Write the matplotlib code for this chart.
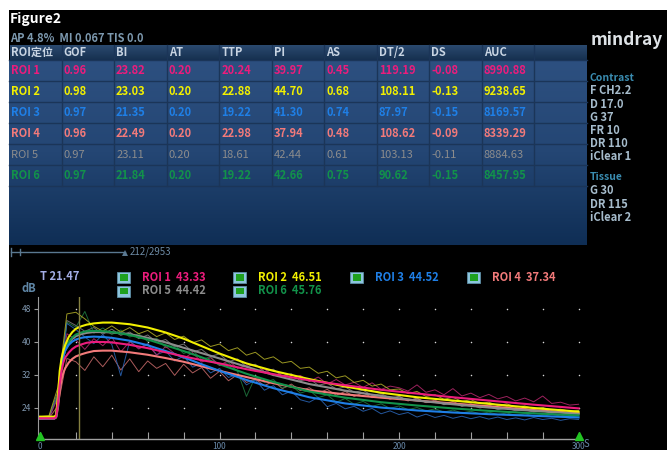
import numpy as np
import matplotlib
matplotlib.use('Agg')
import matplotlib.pyplot as plt
from matplotlib.patches import Rectangle, Polygon
from matplotlib.colors import LinearSegmentedColormap

plt.rcParams['font.family'] = ['Noto Sans CJK SC', 'DejaVu Sans']

W, H = 667, 450

# ---- table data ----
HEADERS = ['ROI定位', 'GOF', 'BI', 'AT', 'TTP', 'PI', 'AS', 'DT/2', 'DS', 'AUC']
ROI_NAMES = ['ROI 1', 'ROI 2', 'ROI 3', 'ROI 4', 'ROI 5', 'ROI 6']
GOF = [0.96, 0.98, 0.97, 0.96, 0.97, 0.97]
BI = [23.82, 23.03, 21.35, 22.49, 23.11, 21.84]
AT = [0.20, 0.20, 0.20, 0.20, 0.20, 0.20]
TTP = [20.24, 22.88, 19.22, 22.98, 18.61, 19.22]
PI = [39.97, 44.70, 41.30, 37.94, 42.44, 42.66]
AS = [0.45, 0.68, 0.74, 0.48, 0.61, 0.75]
DT2 = [119.19, 108.11, 87.97, 108.62, 103.13, 90.62]
DS = [-0.08, -0.13, -0.15, -0.09, -0.11, -0.15]
AUC = [8990.88, 9238.65, 8169.57, 8339.29, 8884.63, 8457.95]

ROI_COLORS = ['#ec1c7c', '#f2f000', '#1f7fe6', '#f27a7a', '#8c8c8c', '#12924a']
RAW_COLORS = ['#b8286e', '#b4b028', '#2a66b8', '#c86a6a', '#808080', '#1f7a40']

# legend values under the table
LEGEND_VALS = [43.33, 46.51, 44.52, 37.34, 44.42, 45.76]
T_MARK = 21.47

CONTRAST = ['F CH2.2', 'D 17.0', 'G 37', 'FR 10', 'DR 110', 'iClear 1']
TISSUE = ['G 30', 'DR 115', 'iClear 2']

# ---- fitted curves (dB) ----
FIT_T = [0, 8, 9, 10, 11, 12, 13, 14, 16, 18, 20, 23, 26, 30, 35, 40, 50, 60, 70,
         80, 90, 100, 115, 130, 150, 170, 190, 210, 230, 250, 275, 300]
FIT_1 = [21.5, 21.5, 21.8, 25.0, 29.8, 33.0, 35.0, 36.2, 37.4, 38.3, 38.9, 39.4, 39.8,
         40.0, 40.0, 39.9, 39.3, 38.5, 37.5, 36.5, 35.6, 34.8, 33.4, 32.2, 30.7, 29.5,
         28.4, 27.5, 26.6, 25.8, 24.8, 23.9]
FIT_2 = [21.9, 21.9, 22.3, 27.0, 33.0, 36.0, 37.8, 39.2, 41.2, 42.4, 43.2, 43.8, 44.2,
         44.5, 44.7, 44.7, 44.3, 43.5, 42.3, 40.8, 39.0, 37.2, 34.8, 33.0, 31.0, 29.2,
         27.7, 26.6, 25.8, 25.0, 24.0, 23.1]
FIT_3 = [21.5, 21.5, 21.9, 25.5, 31.0, 34.5, 36.5, 37.9, 39.3, 40.1, 40.6, 41.0, 41.2,
         41.3, 41.2, 41.0, 40.3, 39.2, 37.8, 36.3, 34.6, 33.0, 30.8, 28.8, 26.6, 25.1,
         24.1, 23.4, 22.9, 22.5, 22.1, 21.7]
FIT_4 = [21.4, 21.4, 21.7, 24.0, 28.0, 30.8, 32.5, 33.6, 35.0, 35.9, 36.5, 37.0, 37.4,
         37.8, 37.9, 37.9, 37.5, 36.9, 36.1, 35.2, 34.1, 33.0, 31.5, 30.0, 28.3, 27.3,
         26.5, 25.8, 25.1, 24.4, 23.5, 22.7]
FIT_5 = [21.6, 21.6, 22.0, 25.5, 31.0, 34.5, 36.5, 38.0, 39.8, 40.8, 41.4, 41.9, 42.2,
         42.4, 42.4, 42.3, 41.9, 41.0, 39.9, 38.6, 37.3, 36.0, 34.0, 32.0, 29.8, 28.2,
         26.9, 25.8, 24.9, 24.1, 23.3, 22.6]
FIT_6 = [21.5, 21.5, 21.9, 25.0, 30.5, 34.2, 36.4, 38.0, 40.0, 41.1, 41.8, 42.3, 42.6,
         42.7, 42.6, 42.4, 41.7, 40.6, 39.2, 37.8, 36.3, 34.6, 32.3, 30.3, 28.0, 26.5,
         25.4, 24.6, 23.9, 23.3, 22.7, 22.2]

# ---- raw intensity, one sample every 5 s ----
RAW_STEP = 5
RAW_1 = [21.4, 21.6, 26.5, 42.0, 40.5, 38.2, 40.8, 39.1, 41.2, 37.6, 40.1, 38.3, 39.4,
         36.8, 38.9, 37.2, 36.0, 37.4, 35.1, 36.2, 34.3, 35.5, 33.6, 34.4, 32.9, 33.5,
         31.8, 32.6, 31.2, 31.9, 30.4, 31.5, 29.8, 30.9, 29.6, 30.2, 29.0, 30.1, 28.5,
         29.3, 28.9, 28.1, 29.6, 27.8, 28.4, 27.2, 28.7, 26.9, 27.6, 26.5, 27.3, 26.2,
         26.8, 25.7, 26.4, 25.5, 26.9, 25.1, 25.4, 24.7, 24.9]
RAW_2 = [21.9, 22.1, 29.0, 46.8, 47.2, 45.6, 43.8, 42.6, 43.9, 42.4, 43.5, 42.0, 42.8,
         41.3, 42.2, 40.6, 41.4, 39.8, 40.5, 38.9, 39.5, 37.9, 38.6, 36.8, 37.5, 35.8,
         36.4, 34.9, 35.3, 33.6, 33.9, 32.4, 32.9, 31.3, 31.8, 30.2, 30.7, 29.3, 29.8,
         28.4, 28.6, 27.5, 28.0, 26.8, 27.2, 26.1, 26.6, 25.6, 26.0, 25.1, 25.4, 24.6,
         25.0, 24.2, 24.5, 23.8, 24.1, 23.5, 23.7, 23.2, 23.4]
RAW_3 = [21.4, 21.6, 27.0, 44.5, 43.0, 41.2, 39.6, 41.8, 39.4, 31.8, 40.2, 38.5, 39.6,
         36.9, 37.8, 35.4, 36.6, 33.9, 34.8, 32.5, 33.6, 31.4, 32.2, 29.6, 30.8, 28.3,
         29.4, 27.2, 28.1, 26.0, 25.4, 26.6, 24.3, 25.1, 23.8, 24.4, 23.2, 23.9, 22.6,
         23.3, 22.4, 22.9, 21.8, 22.5, 21.7, 22.2, 21.5, 22.0, 21.4, 21.9, 21.3, 21.8,
         21.2, 21.6, 21.1, 21.7, 21.2, 21.5, 21.0, 21.4, 21.2]
RAW_4 = [21.3, 21.5, 24.5, 36.0, 35.2, 33.1, 36.4, 34.0, 36.8, 33.2, 35.9, 32.8, 35.4,
         33.6, 34.8, 31.9, 34.6, 32.5, 33.8, 31.2, 32.9, 30.6, 32.1, 30.2, 31.0, 29.4,
         30.5, 28.7, 29.8, 28.2, 28.9, 27.6, 28.5, 27.1, 28.0, 26.8, 27.7, 26.5, 27.2,
         26.1, 26.8, 25.7, 26.4, 25.3, 25.9, 24.9, 25.6, 24.5, 25.0, 24.2, 24.7, 23.9,
         24.3, 23.5, 23.9, 23.2, 23.6, 22.9, 23.2, 22.6, 22.8]
RAW_5 = [21.6, 21.8, 28.0, 45.2, 44.0, 42.6, 43.5, 41.9, 43.1, 41.6, 42.4, 40.8, 41.7,
         39.9, 40.6, 38.8, 39.5, 37.6, 38.2, 36.5, 37.1, 35.2, 35.9, 34.0, 34.6, 32.8,
         33.4, 31.7, 32.3, 30.6, 31.1, 29.5, 30.0, 28.6, 29.1, 27.8, 28.3, 27.0, 27.5,
         26.4, 26.8, 25.8, 26.3, 25.3, 25.7, 24.8, 25.2, 24.4, 24.8, 24.0, 24.4, 23.6,
         24.0, 23.3, 23.6, 23.0, 23.3, 22.7, 23.0, 22.5, 22.7]
RAW_6 = [21.5, 21.7, 27.5, 44.8, 43.6, 47.4, 42.1, 43.4, 41.8, 42.9, 41.2, 42.0, 40.1,
         40.9, 38.6, 39.3, 37.2, 38.0, 35.8, 36.4, 34.3, 35.0, 32.9, 26.8, 31.6, 30.2,
         30.9, 28.8, 29.5, 27.6, 28.3, 26.5, 27.2, 25.4, 26.3, 24.9, 25.6, 24.4, 25.0,
         23.9, 24.5, 23.6, 24.1, 23.3, 23.8, 23.0, 23.5, 22.8, 23.2, 22.6, 23.0, 22.4,
         22.8, 22.2, 22.6, 22.1, 22.4, 21.9, 22.3, 21.8, 22.1]

FITS = [FIT_1, FIT_2, FIT_3, FIT_4, FIT_5, FIT_6]
RAWS = [RAW_1, RAW_2, RAW_3, RAW_4, RAW_5, RAW_6]

fig = plt.figure(figsize=(W / 100, H / 100), dpi=100, facecolor='white')

# background axes in pixel coordinates
bg = fig.add_axes([0, 0, 1, 1], zorder=0)
bg.set_xlim(0, W)
bg.set_ylim(H, 0)
bg.axis('off')
bg.add_patch(Rectangle((9, 10), W - 9, H - 10, color='black', lw=0))

# ---- table ----
tab_left, tab_right, tab_top, tab_bottom = 9, 587, 45, 245
col_w = (tab_right - tab_left) / 11
row_h = 21
cmap = LinearSegmentedColormap.from_list('tab', ['#2d5080', '#244674', '#0f2e55'])
grad = np.linspace(0, 1, 256)[:, None]
bg.imshow(grad, cmap=cmap, aspect='auto', extent=(tab_left, tab_right, tab_bottom, 60),
          zorder=1)
head_cmap = LinearSegmentedColormap.from_list('head', ['#2b4a70', '#16304f'])
for c in range(11):
    x0 = tab_left + c * col_w
    bg.imshow(grad, cmap=head_cmap, aspect='auto',
              extent=(x0 + 0.5, x0 + col_w - 0.5, 60, tab_top), zorder=1)
for r in range(7):
    y = 60 + r * row_h
    bg.plot([tab_left, tab_right], [y, y], color='#1b3558', lw=1.0, zorder=2)
for c in range(1, 11):
    x = tab_left + c * col_w
    bg.plot([x, x], [tab_top, 60 + 6 * row_h], color='#1b3558', lw=1.0, zorder=2)

for c, name in enumerate(HEADERS):
    bg.text(tab_left + c * col_w + 2, 52.5, name, color='#c8d4e2', fontsize=8,
            fontweight='bold', va='center', ha='left', zorder=3)

columns = [GOF, BI, AT, TTP, PI, AS, DT2, DS, AUC]
for r in range(6):
    y = 60 + r * row_h + row_h / 2
    weight = 'normal' if r == 4 else 'bold'
    bg.text(tab_left + 2, y, ROI_NAMES[r], color=ROI_COLORS[r], fontsize=8,
            fontweight=weight, va='center', ha='left', zorder=3)
    for c, col in enumerate(columns):
        bg.text(tab_left + (c + 1) * col_w + 2, y, f"{col[r]:.2f}", color=ROI_COLORS[r],
                fontsize=8, fontweight=weight, va='center', ha='left', zorder=3)

# top texts
bg.text(10, 19, 'Figure2', color='white', fontsize=10, fontweight='bold', va='center')
bg.text(10, 38, 'AP 4.8%  MI 0.067 TIS 0.0', color='#7c98ae', fontsize=8,
        fontweight='bold', va='center')

# right panel
bg.text(591, 40, 'mindray', color='#dde2e6', fontsize=12.5, fontweight='bold', va='center')
bg.text(590, 78, 'Contrast', color='#3a8cb0', fontsize=7.5, fontweight='bold', va='center')
for i, s in enumerate(CONTRAST):
    bg.text(590, 91 + i * 13.2, s, color='#a6bccc', fontsize=8, fontweight='bold',
            va='center')
bg.text(590, 177, 'Tissue', color='#3a8cb0', fontsize=7.5, fontweight='bold', va='center')
for i, s in enumerate(TISSUE):
    bg.text(590, 191 + i * 13.2, s, color='#a6bccc', fontsize=8, fontweight='bold',
            va='center')

# slider under the table
bg.plot([11, 125], [252, 252], color='#5a7890', lw=1)
bg.plot([11, 11], [248, 256], color='#5a7890', lw=1)
bg.plot([20, 20], [249, 255], color='#5a7890', lw=1)
bg.add_patch(Polygon([[122, 256], [128, 256], [125, 250]], color='#5a7890', lw=0))
bg.text(130, 252, '212/2953', color='#6c8aa4', fontsize=7, va='center')

# legend above the chart
bg.text(40, 277, f"T {T_MARK:.2f}", color='#a4aee6', fontsize=8, fontweight='bold',
        va='center')
box_x = [117, 233, 350, 467]
slots = [(0, 0), (1, 0), (2, 0), (3, 0), (0, 1), (1, 1)]
for i, (col, row) in enumerate(slots):
    yb = 272 + row * 13.5
    xb = box_x[col]
    bg.add_patch(Rectangle((xb, yb), 13, 11, facecolor='#8cc4dc', edgecolor='#5d8ea6',
                           lw=0.6))
    bg.add_patch(Rectangle((xb + 2.5, yb + 2.2), 8, 6.6, facecolor='#1ea01e', lw=0))
    bg.text(xb + 25, yb + 5.5, f"{ROI_NAMES[i]}  {LEGEND_VALS[i]:.2f}",
            color=ROI_COLORS[i], fontsize=8, fontweight='bold', va='center')

bg.text(22, 289, 'dB', color='#5f86a6', fontsize=8, fontweight='bold', va='center')
bg.text(584, 444, 'S', color='#6888a8', fontsize=7, va='center')

# ---- TIC chart ----
ax = fig.add_axes([38 / W, (H - 439) / H, (582 - 38) / W, (439 - 297) / H], zorder=2)
ax.set_facecolor('none')
ax.set_xlim(-1.1, 301.9)
ax.set_ylim(16.48, 50.9)

raw_t = np.arange(len(RAW_1)) * RAW_STEP
for i in [3, 4, 5, 2, 0, 1]:
    ax.plot(raw_t, RAWS[i], color=RAW_COLORS[i], lw=0.7, alpha=0.85)
for i in [3, 4, 5, 2, 1, 0]:
    ax.plot(FIT_T, FITS[i], color=ROI_COLORS[i], lw=1.5)

ax.axvline(T_MARK, color='#858040', lw=1.0)

gx, gy = np.meshgrid(np.arange(20, 301, 20), [24, 32, 40, 48])
ax.scatter(gx.ravel(), gy.ravel(), s=1.2, color='#d8d8d8', lw=0, zorder=0)

ax.plot([0, 300], [17.3, 17.3], linestyle='none', marker='^', markersize=6,
        color='#22c422', clip_on=False, zorder=5)

for side in ['top', 'right']:
    ax.spines[side].set_visible(False)
ax.spines['left'].set_color('#9a9a9a')
ax.spines['bottom'].set_color('#a0a0a0')
ax.spines['left'].set_linewidth(0.8)
ax.spines['bottom'].set_linewidth(1.0)

ax.set_xticks(np.arange(0, 301, 20))
ax.set_xticklabels([str(v) if v % 100 == 0 else '' for v in range(0, 301, 20)])
ax.tick_params(axis='x', direction='in', length=5, color='#a0a0a0', labelsize=6,
               labelcolor='#6888a8', pad=2)
ax.set_yticks([24, 32, 40, 48])
ax.tick_params(axis='y', direction='out', length=3, color='#9a9a9a', labelsize=6,
               labelcolor='#8098b0', pad=2)

fig.savefig('out.png', dpi=100, facecolor='white')
